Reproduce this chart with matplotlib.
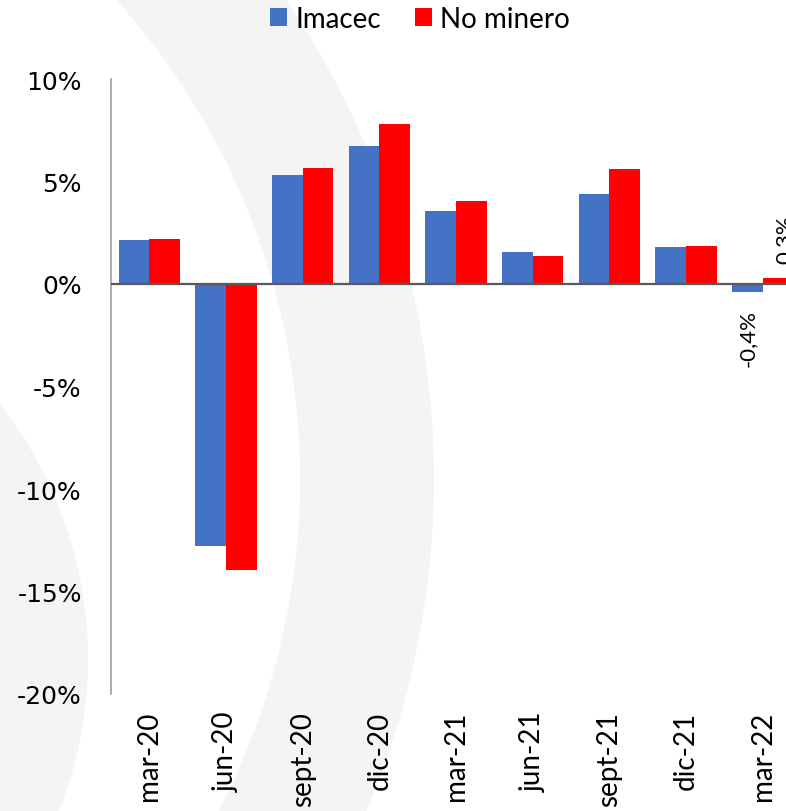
import matplotlib
matplotlib.use("Agg")
import matplotlib.pyplot as plt
from matplotlib.patches import Circle, Annulus
import numpy as np

# DATA
# ----
periods = ["mar-20", "jun-20", "sept-20", "dic-20", "mar-21",
           "jun-21", "sept-21", "dic-21", "mar-22"]
imacec = [2.15, -12.8, 5.3, 6.75, 3.55, 1.55, 4.4, 1.8, -0.4]
no_minero = [2.2, -13.95, 5.65, 7.8, 4.05, 1.35, 5.6, 1.85, 0.3]
y_ticks = [10, 5, 0, -5, -10, -15, -20]

BLUE = "#4472C4"
RED = "#FF0000"

W, H = 786, 812
fig = plt.figure(figsize=(W / 100, H / 100), dpi=100)
fig.patch.set_facecolor("white")

# faint watermark rings behind the chart (pixel coords -> inches)
def px(x, y):
    return (x / 100, (H - y) / 100)

fig.add_artist(Annulus(px(-416, 480), 8.5, 8.5 - 7.16, facecolor="#f4f4f4",
                       edgecolor="none", transform=fig.dpi_scale_trans, zorder=0))
fig.add_artist(Circle(px(-325, 660), 4.13, facecolor="#f4f4f4",
                      edgecolor="none", transform=fig.dpi_scale_trans, zorder=0))

ax = fig.add_axes([111 / W, (H - 695) / H, 690 / W, 615 / H])
ax.patch.set_visible(False)

x = np.arange(len(periods))
bw = 0.4
ax.bar(x - bw / 2, imacec, bw, color=BLUE, label="Imacec", zorder=2)
ax.bar(x + bw / 2, no_minero, bw, color=RED, label="No minero", zorder=2)

ax.set_xlim(-0.5, len(periods) - 0.5)
ax.set_ylim(-20, 10)
ax.axhline(0, color="#595959", lw=1.6, zorder=3)

for s in ["top", "right", "bottom"]:
    ax.spines[s].set_visible(False)
ax.spines["left"].set_color("#a6a6a6")
ax.spines["left"].set_linewidth(1.3)

ax.set_yticks(y_ticks)
ax.set_yticklabels([f"{v}%" for v in y_ticks], fontsize=18,
                   family="DejaVu Sans")
ax.set_xticks(x)
ax.set_xticklabels(periods, rotation=90, fontsize=20, family="Lato")
ax.tick_params(axis="y", length=0, pad=21)
ax.tick_params(axis="x", length=0, pad=12)

# data labels on the last period only
last = len(periods) - 1
ax.annotate(f"{imacec[last]:.1f}%".replace(".", ","),
            (x[last] - bw / 2, imacec[last]), xytext=(0, -12),
            textcoords="offset points", rotation=90, ha="center", va="top",
            fontsize=16, family="Lato")
ax.annotate(f"{no_minero[last]:.1f}%".replace(".", ","),
            (x[last] + bw / 2, no_minero[last]), xytext=(5, 11),
            textcoords="offset points", rotation=90, ha="center", va="bottom",
            fontsize=16, family="Lato")

fig.legend(loc="center", bbox_to_anchor=(420 / W, 1 - 20 / H), ncol=2,
           frameon=False, prop={"family": "Lato", "size": 20},
           handlelength=0.62, handleheight=0.62, handletextpad=0.3,
           columnspacing=1.2)

fig.savefig("out.png", dpi=100)
